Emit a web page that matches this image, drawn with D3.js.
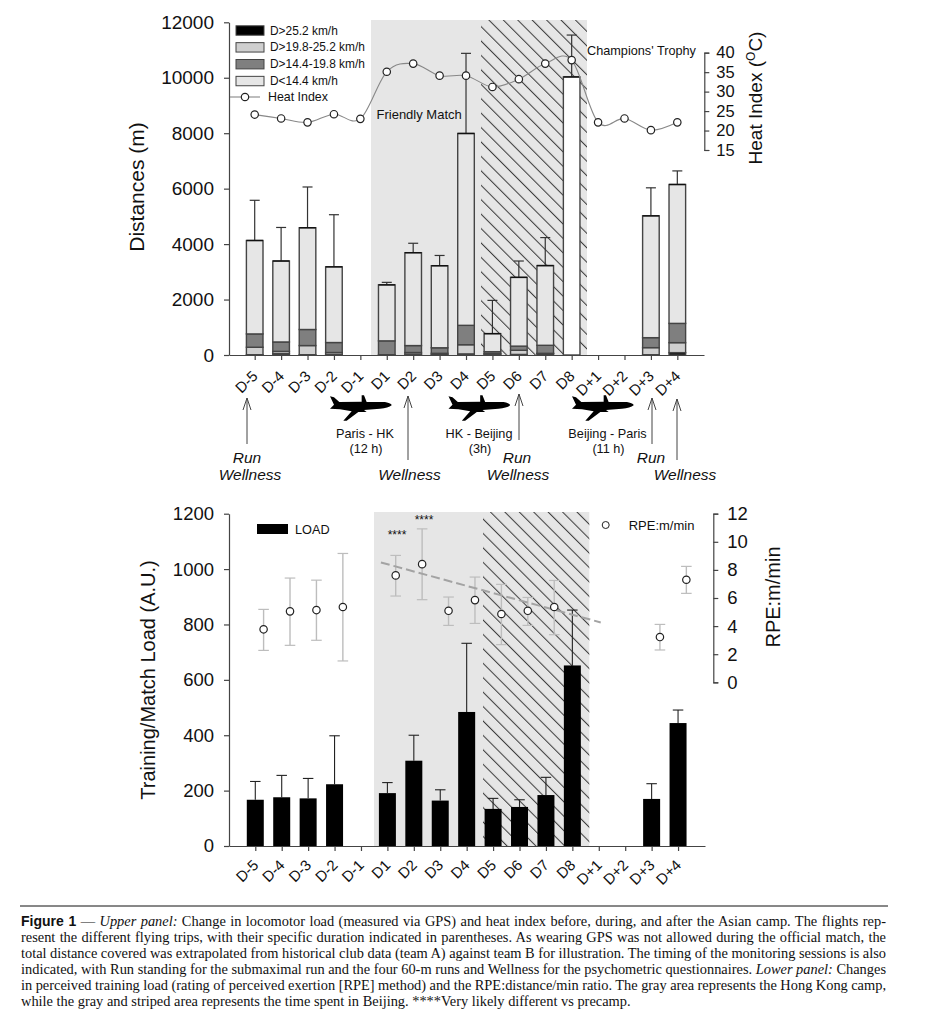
<!DOCTYPE html>
<html>
<head>
<meta charset="utf-8">
<script src="https://cdn.jsdelivr.net/npm/d3@7"></script>
<style>
    html, body { margin: 0; padding: 0; background: #fff; }
    svg { display: block; }
    text { font-family: "Liberation Sans", Arial, sans-serif; fill: #111; }
    .caption { font-family: "Liberation Serif", "Times New Roman", serif; font-size: 14.4px; }
</style>
</head>
<body>
<svg id="chart" width="926" height="1026"></svg>
<script>
// 数据
const days = ['D-5', 'D-4', 'D-3', 'D-2', 'D-1', 'D1', 'D2', 'D3', 'D4', 'D5', 'D6', 'D7', 'D8', 'D+1', 'D+2', 'D+3', 'D+4'];

// upper panel, null = no session that day
const distVeryHigh = [10, 50, 10, 20, null, 0, 30, 10, 40, 30, 20, 50, 0, null, null, 10, 85];
const distHigh = [280, 130, 340, 90, null, 10, 90, 60, 370, 50, 170, 60, 0, null, null, 265, 445];
const distMid = [760, 470, 920, 450, null, 510, 340, 260, 1070, 120, 320, 350, 0, null, null, 625, 1140];
const distTotal = [4130, 3390, 4590, 3180, null, 2530, 3690, 3220, 7990, 770, 2800, 3225, 10030, null, null, 5020, 6150];
const distError = [5580, 4600, 6060, 5060, null, 2620, 4030, 3590, 10880, 1970, 3390, 4235, 11540, null, null, 6030, 6640];
const heatIndex = [24.1, 23.1, 22.1, 24.2, 23.0, 35.1, 37.2, 34.1, 34.1, 31.2, 33.2, 37.2, 38.1, 22.1, 23.1, 20.1, 22.1];
const extrapolatedDay = 'D8';

// lower panel
const load = [167, 176, 172, 223, null, 191, 308, 164, 484, 134, 141, 184, 652, null, null, 170, 444];
const loadError = [233, 255, 244, 398, null, 229, 400, 203, 732, 172, 167, 248, 852, null, null, 225, 491];
const rpe = [3.77, 5.05, 5.14, 5.36, null, 7.61, 8.41, 5.09, 5.85, 4.86, 5.09, 5.36, null, null, null, 3.22, 7.30];
const rpeHigh = [5.19, 7.42, 7.27, 9.17, null, 9.03, 10.92, 6.07, 7.49, 6.97, 6.04, 7.25, null, null, null, 4.12, 8.25];
const rpeLow = [2.27, 2.63, 2.99, 1.52, null, 6.14, 5.88, 4.05, 4.19, 2.68, 4.05, 3.39, null, null, null, 2.30, 6.33];
const rpeTrendDays = [4.44, 12.76];
const rpeTrend = [8.53, 4.26];

const legendLabels = ['D>25.2 km/h', 'D>19.8-25.2 km/h', 'D>14.4-19.8 km/h', 'D<14.4 km/h'];
const legendColors = ['#000', '#cfcfcf', '#7f7f7f', '#e6e6e6'];

const flightNames = ['Paris - HK', 'HK - Beijing', 'Beijing - Paris'];
const flightTimes = ['(12 h)', '(3h)', '(11 h)'];

const captionLines = [
    [['b', 'Figure 1'], ['n', ' — '], ['i', 'Upper panel:'], ['n', ' Change in locomotor load (measured via GPS) and heat index before, during, and after the Asian camp. The flights rep-']],
    [['n', 'resent the different flying trips, with their specific duration indicated in parentheses. As wearing GPS was not allowed during the official match, the']],
    [['n', 'total distance covered was extrapolated from historical club data (team A) against team B for illustration. The timing of the monitoring sessions is also']],
    [['n', 'indicated, with Run standing for the submaximal run and the four 60-m runs and Wellness for the psychometric questionnaires. '], ['i', 'Lower panel:'], ['n', ' Changes']],
    [['n', 'in perceived training load (rating of perceived exertion [RPE] method) and the RPE:distance/min ratio. The gray area represents the Hong Kong camp,']],
    [['n', 'while the gray and striped area represents the time spent in Beijing. ****Very likely different vs precamp.']]
];

const svg = d3.select('#chart');
const axisColor = '#444';

// 斜线填充
svg.append('defs').append('pattern')
    .attr('id', 'hatch')
    .attr('patternUnits', 'userSpaceOnUse')
    .attr('width', 10.2)
    .attr('height', 10.2)
    .attr('patternTransform', 'rotate(45)')
    .append('line')
    .attr('x1', 0).attr('x2', 10.2)
    .attr('y1', 5).attr('y2', 5)
    .attr('stroke', '#222')
    .attr('stroke-width', 0.9);

function styleAxis(g, fontSize) {
    g.selectAll('path, line').attr('stroke', axisColor).attr('stroke-width', 1.2);
    g.selectAll('text')
        .style('font-family', '"Liberation Sans", Arial, sans-serif')
        .style('font-size', fontSize + 'px')
        .attr('fill', '#111');
}

function dayLabels(x, y) {
    svg.append('g').selectAll('text')
        .data(days)
        .enter().append('text')
        .attr('text-anchor', 'end')
        .attr('transform', (d, i) => `translate(${x(i) + 4},${y}) rotate(-45)`)
        .style('font-size', '15px')
        .text(d => d);
}

function bandAndHatch(x0, x1, xh, y0, y1) {
    svg.append('rect').attr('x', x0).attr('y', y0).attr('width', x1 - x0).attr('height', y1 - y0).attr('fill', '#e6e6e6');
    svg.append('rect').attr('x', xh).attr('y', y0).attr('width', x1 - xh).attr('height', y1 - y0).attr('fill', 'url(#hatch)');
}

function yTitle(x, y, size, label) {
    return svg.append('text')
        .attr('transform', `translate(${x},${y}) rotate(-90)`)
        .attr('text-anchor', 'middle')
        .style('font-size', size + 'px')
        .text(label);
}

function note(x, y, size, label, anchor, italic) {
    svg.append('text')
        .attr('x', x).attr('y', y)
        .attr('text-anchor', anchor || 'start')
        .style('font-size', size + 'px')
        .style('font-style', italic ? 'italic' : 'normal')
        .text(label);
}

function errorBar(x, yFrom, yTo, capW, color, width) {
    svg.append('line').attr('x1', x).attr('x2', x).attr('y1', yFrom).attr('y2', yTo).attr('stroke', color).attr('stroke-width', width);
    svg.append('line').attr('x1', x - capW / 2).attr('x2', x + capW / 2).attr('y1', yTo).attr('y2', yTo).attr('stroke', color).attr('stroke-width', width);
}

// 上图
function drawUpper() {
    const x = d3.scaleLinear().domain([-0.973, 17.01]).range([229, 704]);
    const y = d3.scaleLinear().domain([0, 12000]).range([355, 22.3]);
    const yHeat = d3.scaleLinear().domain([15, 40]).range([150, 52.7]);
    const barW = 16.6;

    bandAndHatch(371, 587, 481, 20, 355);

    // 堆叠柱
    days.forEach((d, i) => {
        if (distTotal[i] === null) return;
        const white = d === extrapolatedDay;
        const stack = [
            [0, distVeryHigh[i], '#000'],
            [distVeryHigh[i], distHigh[i], '#cfcfcf'],
            [distHigh[i], distMid[i], '#7f7f7f'],
            [distMid[i], distTotal[i], white ? '#fff' : '#e6e6e6']
        ];
        errorBar(x(i), y(distTotal[i]), y(distError[i]), 10, '#333', 1.2);
        stack.forEach(s => {
            if (s[1] <= s[0]) return;
            svg.append('rect')
                .attr('x', x(i) - barW / 2)
                .attr('y', y(s[1]))
                .attr('width', barW)
                .attr('height', y(s[0]) - y(s[1]))
                .attr('fill', s[2])
                .attr('stroke', '#444')
                .attr('stroke-width', 1.4);
        });
        svg.append('line')
            .attr('x1', x(i) - barW / 2).attr('x2', x(i) + barW / 2)
            .attr('y1', y(distTotal[i])).attr('y2', y(distTotal[i]))
            .attr('stroke', '#111').attr('stroke-width', 1.4);
    });

    // Heat index
    const heatLine = d3.line()
        .x((d, i) => x(i))
        .y(d => yHeat(d))
        .curve(d3.curveCatmullRom.alpha(0));
    svg.append('path')
        .attr('d', heatLine(heatIndex))
        .attr('fill', 'none')
        .attr('stroke', '#888')
        .attr('stroke-width', 1.1);
    svg.selectAll('circle.heat')
        .data(heatIndex)
        .enter().append('circle')
        .attr('class', 'heat')
        .attr('cx', (d, i) => x(i))
        .attr('cy', d => yHeat(d))
        .attr('r', 3.7)
        .attr('fill', '#fff')
        .attr('stroke', '#222')
        .attr('stroke-width', 1.2);

    // 坐标轴
    const gx = svg.append('g').attr('transform', 'translate(0,355)')
        .call(d3.axisBottom(x).tickValues(d3.range(days.length)).tickSize(5).tickSizeOuter(0).tickFormat(''));
    styleAxis(gx, 14);
    dayLabels(x, 377);

    const gy = svg.append('g').attr('transform', 'translate(229,0)')
        .call(d3.axisLeft(y).tickValues(d3.range(0, 12001, 2000)).tickSize(5).tickSizeOuter(0).tickFormat(d3.format('d')).tickPadding(10));
    styleAxis(gy, 19);

    const gh = svg.append('g').attr('transform', 'translate(704.3,0)')
        .call(d3.axisRight(yHeat).tickValues(d3.range(15, 41, 5)).tickSize(5).tickSizeOuter(5).tickPadding(7));
    styleAxis(gh, 16.5);

    yTitle(144, 187, 21, 'Distances (m)');
    const heatTitle = yTitle(762, 98, 19, 'Heat Index (');
    heatTitle.append('tspan').attr('dy', -7).style('font-size', '12px').text('O');
    heatTitle.append('tspan').attr('dy', 7).text('C)');

    // 图例
    legendLabels.forEach((label, i) => {
        const cy = 30.5 + i * 16.85;
        svg.append('rect')
            .attr('x', 236).attr('y', cy - 4.7).attr('width', 28).attr('height', 9.4)
            .attr('fill', legendColors[i]).attr('stroke', '#444').attr('stroke-width', 1);
        note(270, cy + 4, 11.9, label);
    });
    svg.append('line').attr('x1', 230).attr('x2', 260).attr('y1', 97).attr('y2', 97).attr('stroke', '#888').attr('stroke-width', 1.1);
    svg.append('circle').attr('cx', 245).attr('cy', 97).attr('r', 3.7).attr('fill', '#fff').attr('stroke', '#222').attr('stroke-width', 1.2);
    note(268, 101, 12.4, 'Heat Index');

    note(376.5, 119, 13, 'Friendly Match');
    note(587, 55, 12.7, "Champions' Trophy");
}

// 飞机和箭头
function drawTimeline() {
    const planePath = 'M30,25 L42,28 L58,42 L125,41 L125,22 L132,22 L140,42 L195,42 Q215,46 215,52 Q205,60 180,62 L132,66 L140,72 L115,72 L80,98 L70,98 L95,70 L60,64 L30,62 L42,50 Z';
    [0, 118.5, 242].forEach(dx => {
        svg.append('path')
            .attr('d', planePath)
            .attr('transform', `translate(${320 + dx},388) scale(0.3333)`)
            .attr('fill', '#000');
    });

    const flightX = [365, 479, 607.5];
    flightNames.forEach((name, i) => {
        note(flightX[i], 438, 12.7, name, 'middle');
        note(flightX[i] + 1, 453, 12.7, flightTimes[i], 'middle');
    });

    const arrows = [[247, 398, 444], [408, 396, 460], [519, 394, 440], [652, 398, 444], [677, 399, 460]];
    arrows.forEach(a => {
        svg.append('path')
            .attr('d', `M${a[0]},${a[2]} L${a[0]},${a[1]} M${a[0] - 4},${a[1] + 12} L${a[0]},${a[1]} L${a[0] + 4},${a[1] + 12}`)
            .attr('fill', 'none')
            .attr('stroke', '#444')
            .attr('stroke-width', 1);
    });

    [[247, 'Run'], [517, 'Run'], [651, 'Run']].forEach(d => note(d[0], 463, 15.5, d[1], 'middle', true));
    [[250, 'Wellness'], [409.5, 'Wellness'], [518, 'Wellness'], [685, 'Wellness']].forEach(d => note(d[0], 480, 15.5, d[1], 'middle', true));
}

// 下图
function drawLower() {
    const x = d3.scaleLinear().domain([-0.995, 17.02]).range([229, 705]);
    const y = d3.scaleLinear().domain([0, 1200]).range([846, 513.7]);
    const yRpe = d3.scaleLinear().domain([0, 12]).range([682.3, 513.7]);
    const xRpe = i => x(i) + 8.3;
    const barW = 17;

    bandAndHatch(374, 589.3, 483, 512, 846);

    days.forEach((d, i) => {
        if (load[i] === null) return;
        errorBar(x(i), y(load[i]), y(loadError[i]), 10.5, '#222', 1.1);
        svg.append('rect')
            .attr('x', x(i) - barW / 2)
            .attr('y', y(load[i]))
            .attr('width', barW)
            .attr('height', y(0) - y(load[i]))
            .attr('fill', '#000');
    });

    // RPE 误差线
    days.forEach((d, i) => {
        if (rpe[i] === null) return;
        const px = xRpe(i);
        svg.append('line').attr('x1', px).attr('x2', px).attr('y1', yRpe(rpeLow[i])).attr('y2', yRpe(rpeHigh[i])).attr('stroke', '#bdbdbd').attr('stroke-width', 1.4);
        [rpeLow[i], rpeHigh[i]].forEach(v => {
            svg.append('line').attr('x1', px - 5.3).attr('x2', px + 5.3).attr('y1', yRpe(v)).attr('y2', yRpe(v)).attr('stroke', '#bdbdbd').attr('stroke-width', 1.2);
        });
    });

    svg.append('line')
        .attr('x1', x(rpeTrendDays[0]) + 8.3).attr('x2', x(rpeTrendDays[1]) + 8.3)
        .attr('y1', yRpe(rpeTrend[0])).attr('y2', yRpe(rpeTrend[1]))
        .attr('stroke', '#a3a3a3')
        .attr('stroke-width', 2)
        .attr('stroke-dasharray', '9,4');

    svg.selectAll('circle.rpe')
        .data(rpe.map((v, i) => [i, v]).filter(d => d[1] !== null))
        .enter().append('circle')
        .attr('class', 'rpe')
        .attr('cx', d => xRpe(d[0]))
        .attr('cy', d => yRpe(d[1]))
        .attr('r', 3.7)
        .attr('fill', '#fff')
        .attr('stroke', '#222')
        .attr('stroke-width', 1.2);

    const gx = svg.append('g').attr('transform', 'translate(0,846)')
        .call(d3.axisBottom(x).tickValues(d3.range(days.length)).tickSize(5).tickSizeOuter(0).tickFormat(''));
    styleAxis(gx, 14);
    dayLabels(x, 866);

    const gy = svg.append('g').attr('transform', 'translate(229,0)')
        .call(d3.axisLeft(y).tickValues(d3.range(0, 1201, 200)).tickSize(5).tickSizeOuter(0).tickFormat(d3.format('d')).tickPadding(10));
    styleAxis(gy, 18.5);

    const gr = svg.append('g').attr('transform', 'translate(713.3,0)')
        .call(d3.axisRight(yRpe).tickValues(d3.range(0, 13, 2)).tickSize(5).tickSizeOuter(5).tickPadding(9));
    styleAxis(gr, 18.5);

    yTitle(155, 680, 20, 'Training/Match Load (A.U.)');
    yTitle(780, 597, 20, 'RPE:m/min');

    svg.append('rect').attr('x', 257).attr('y', 524).attr('width', 31).attr('height', 10).attr('fill', '#000');
    note(295, 534, 12.7, 'LOAD');
    svg.append('circle').attr('cx', 605.7).attr('cy', 525).attr('r', 3.5).attr('fill', '#fff').attr('stroke', '#222');
    note(628.7, 530, 13, 'RPE:m/min');
    note(397, 539, 12, '****', 'middle');
    note(424, 524, 12, '****', 'middle');
}

// 图注
function drawCaption() {
    svg.append('line').attr('x1', 20).attr('x2', 888).attr('y1', 906).attr('y2', 906).attr('stroke', '#111').attr('stroke-width', 1);
    captionLines.forEach((parts, i) => {
        const t = svg.append('text')
            .attr('class', 'caption')
            .attr('x', 21)
            .attr('y', 926 + i * 16)
            .attr('xml:space', 'preserve');
        parts.forEach(p => {
            const s = t.append('tspan').text(p[1]);
            if (p[0] === 'b') s.style('font-family', '"Liberation Sans", Arial, sans-serif').style('font-weight', 'bold').style('font-size', '14px');
            if (p[0] === 'i') s.style('font-style', 'italic');
        });
        // 两端对齐，最后一行除外
        if (i < captionLines.length - 1) {
            const full = parts.map(p => p[1]).join('');
            const gaps = full.split(' ').length - 1;
            const extra = (865 - t.node().getComputedTextLength()) / gaps;
            t.style('word-spacing', extra + 'px');
        }
    });
}

drawUpper();
drawTimeline();
drawLower();
drawCaption();
</script>
</body>
</html>
